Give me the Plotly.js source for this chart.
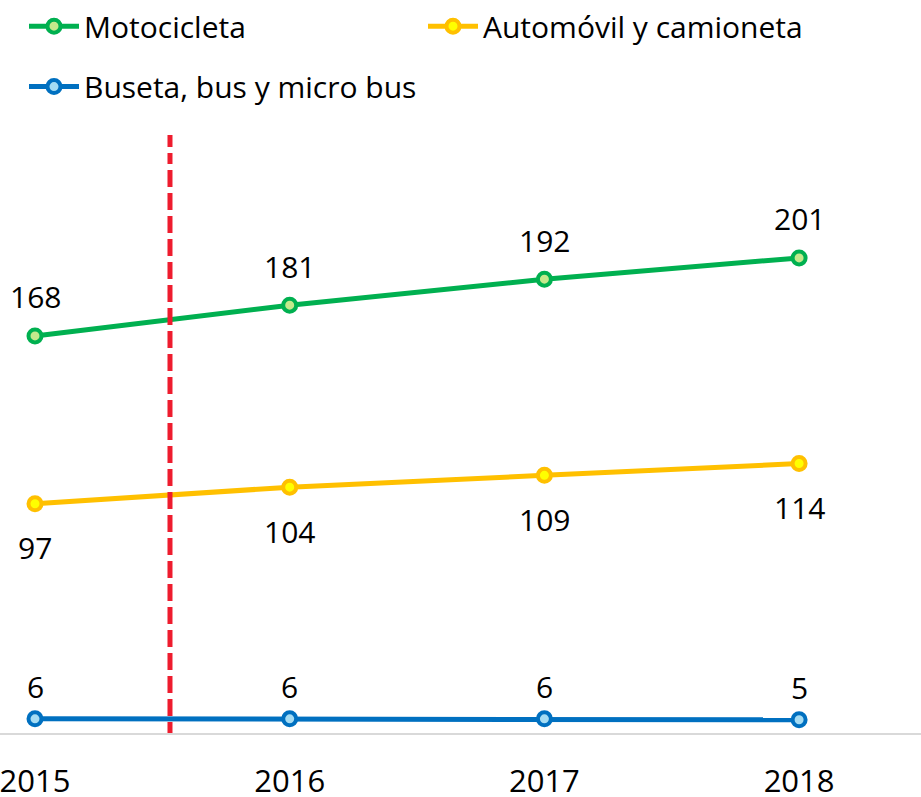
<!DOCTYPE html>
<html>
<head>
<meta charset="utf-8">
<script src="https://cdn.plot.ly/plotly-3.0.1.min.js"></script>
<style>html,body{margin:0;padding:0;background:#fff}#chart{width:921px;height:797px}</style>
</head>
<body>
<div id="chart"></div>
<script>
const years = [2015, 2016, 2017, 2018];
const moto = [168, 181, 192, 201];
const auto = [97, 104, 109, 114];
const bus = [6, 6, 6, 5.6];
const busLabels = ["6", "6", "6", "5"];
const names = ["Motocicleta", "Automóvil y camioneta", "Buseta, bus y micro bus"];
const markerX = 2015.53;

const FONT = "Open Sans";
function tr(y, name, color, fill, leg) {
  return {
    x: years, y: y, name: name, type: "scatter", mode: "lines+markers",
    line: {color: color, width: 5},
    marker: {size: 13, color: fill, line: {color: color, width: 4}},
    cliponaxis: false, legend: leg
  };
}
const data = [
  tr(moto, names[0], "#00b050", "#c4e98c", "legend"),
  tr(auto, names[1], "#ffc000", "#ffff00", "legend2"),
  tr(bus, names[2], "#0070c0", "#a5dcf3", "legend3")
];
function labels(vals, texts, shift) {
  return vals.map((v, i) => ({
    x: years[i], y: v, xref: "x", yref: "y", text: texts[i], showarrow: false,
    yshift: shift, xanchor: "center", yanchor: "middle",
    font: {family: FONT, size: 30, color: "#000"}
  }));
}
const annotations = [].concat(
  labels(moto, moto.map(String), 39),
  labels(auto, auto.map(String), -44),
  labels(bus, busLabels, 32)
);
const legBase = {orientation: "h", font: {family: FONT, size: 30, color: "#000"}, bgcolor: "rgba(0,0,0,0)", xanchor: "left", yanchor: "middle", itemwidth: 50};
const layout = {
  width: 921, height: 797,
  margin: {l: 0, r: 0, t: 135, b: 64},
  paper_bgcolor: "#fff", plot_bgcolor: "#fff",
  showlegend: true,
  legend: Object.assign({}, legBase, {x: 24/921, y: 1.182}),
  legend2: Object.assign({}, legBase, {x: 423/921, y: 1.182}),
  legend3: Object.assign({}, legBase, {x: 24/921, y: 1.081}),
  xaxis: {range: [2014.8626, 2018.4786], tickvals: years, ticktext: years.map(String),
    showgrid: false, zeroline: false, showline: true, linecolor: "#d9d9d9", linewidth: 2,
    ticks: "", tickfont: {family: FONT, size: 31, color: "#000"}, ticklabelstandoff: 20,
    ticklabeloverflow: "allow", fixedrange: true},
  yaxis: {range: [0, 253], visible: false, showgrid: false, zeroline: false, fixedrange: true},
  annotations: annotations,
  shapes: [{type: "line", xref: "x", yref: "paper", x0: markerX, x1: markerX, y0: 0, y1: 1,
    line: {color: "#ee1c2e", width: 5, dash: "11px,6px,17px,6px,17px,6px,17px,6px,17px,6px,17px,6px,17px,6px,17px,6px,17px,6px,17px,6px,17px,6px,17px,6px,17px,6px,17px,6px,17px,6px,17px,6px,17px,6px,17px,6px,17px,6px,17px,6px,17px,6px,17px,6px,17px,6px,17px,6px,17px,6px"}, layer: "above"}]
};
Plotly.newPlot("chart", data, layout, {displayModeBar: false, staticPlot: true});
</script>
</body>
</html>
